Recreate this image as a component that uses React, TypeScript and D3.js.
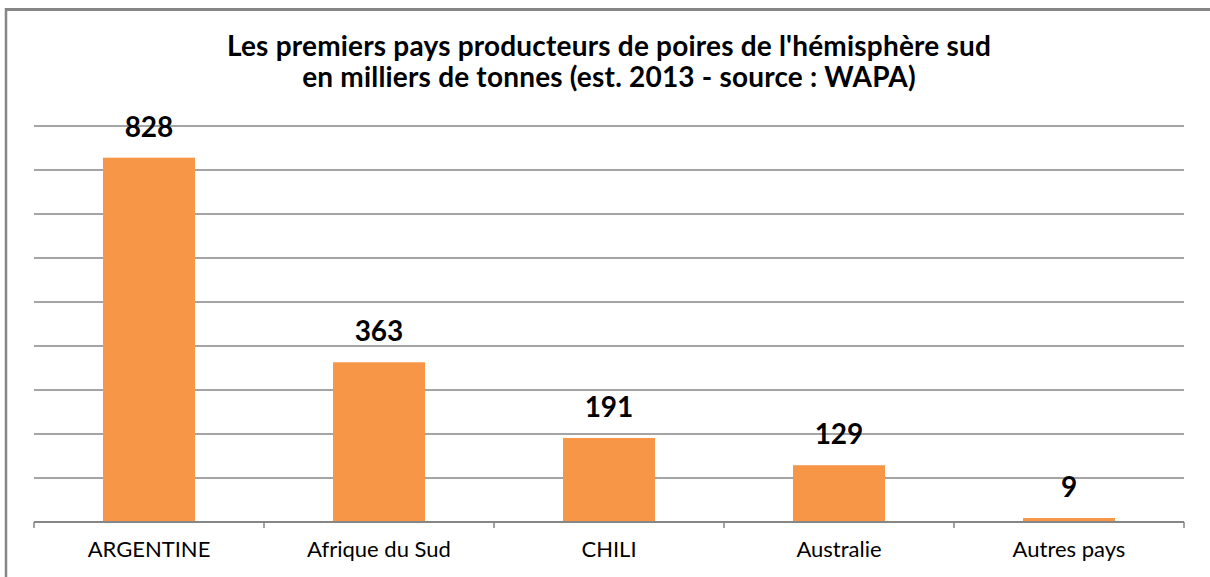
import React from "react";
import * as d3 from "d3";

const categories = ["ARGENTINE", "Afrique du Sud", "CHILI", "Australie", "Autres pays"];
const values = [828, 363, 191, 129, 9];
const gridTicks = [100, 200, 300, 400, 500, 600, 700, 800, 900];
const titleLines = [
  "Les premiers pays producteurs de poires de l'hémisphère sud",
  "en milliers de tonnes (est. 2013 - source : WAPA)",
];

const W = 1210;
const H = 577;
const FONT = "Lato, 'Open Sans', sans-serif";

export default function App() {
  const x = d3.scaleBand<string>().domain(categories).range([34, 1184]).paddingInner(0.6).paddingOuter(0.3);
  const y = d3.scaleLinear().domain([0, 900]).range([522, 126]);
  const step = x.step();
  const grid = "#868686";
  return (
    <svg width={W} height={H} style={{ position: "absolute", left: 0, top: 0, background: "#fff" }}>
      <rect x={0} y={0} width={W} height={H} fill="#fff" />
      <line x1={6} y1={9.5} x2={W} y2={9.5} stroke={grid} strokeWidth={3} />
      <line x1={6} y1={8} x2={6} y2={H} stroke={grid} strokeWidth={2.5} />
      {titleLines.map((t, i) => (
        <text key={i} x={609} y={56 + i * 31} textAnchor="middle" fontFamily={FONT} fontWeight="bold" fontSize={28} letterSpacing={0.2} fill="#000">
          {t}
        </text>
      ))}
      {gridTicks.map((v) => (
        <line key={v} x1={34} x2={1184} y1={y(v)} y2={y(v)} stroke={grid} strokeWidth={1.4} />
      ))}
      {categories.map((c, i) => (
        <rect key={c} x={x(c)} y={y(values[i])} width={x.bandwidth()} height={y(0) - y(values[i])} fill="#F79646" />
      ))}
      <line x1={34} x2={1184} y1={y(0)} y2={y(0)} stroke={grid} strokeWidth={2} />
      {d3.range(categories.length + 1).map((i) => (
        <line key={i} x1={34 + i * step} x2={34 + i * step} y1={y(0)} y2={y(0) + 6} stroke={grid} strokeWidth={1.5} />
      ))}
      {categories.map((c, i) => (
        <text key={c} x={(x(c) as number) + x.bandwidth() / 2} y={y(values[i]) - 21} textAnchor="middle" fontFamily={FONT} fontWeight="bold" fontSize={28} fill="#000">
          {values[i]}
        </text>
      ))}
      {categories.map((c) => (
        <text key={c} x={(x(c) as number) + x.bandwidth() / 2} y={557} textAnchor="middle" fontFamily={FONT} fontSize={22} fill="#000">
          {c}
        </text>
      ))}
    </svg>
  );
}
